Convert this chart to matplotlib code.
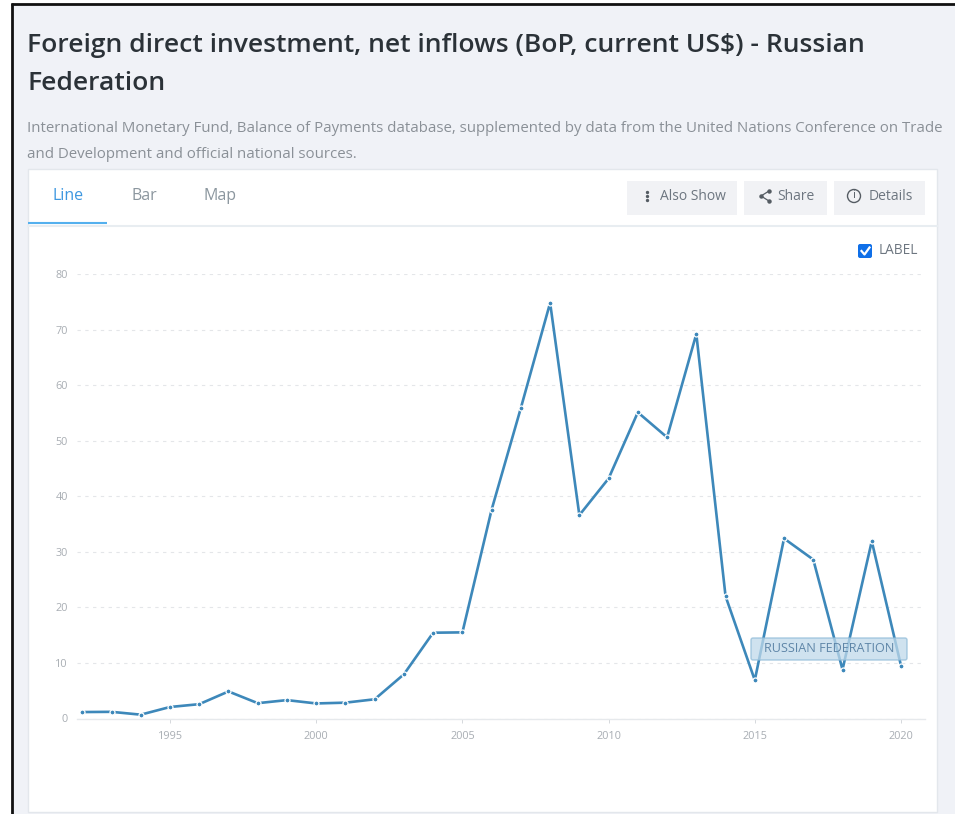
import matplotlib
matplotlib.use("Agg")
import matplotlib.pyplot as plt
from matplotlib.patches import Circle, FancyBboxPatch, Rectangle

plt.rcParams['font.family'] = ['Open Sans', 'DejaVu Sans']

# FDI net inflows, billions of current US$
years = [1992, 1993, 1994, 1995, 1996, 1997, 1998, 1999, 2000, 2001,
         2002, 2003, 2004, 2005, 2006, 2007, 2008, 2009, 2010, 2011,
         2012, 2013, 2014, 2015, 2016, 2017, 2018, 2019, 2020]
inflows = [1.16, 1.2, 0.69, 2.07, 2.58, 4.87, 2.76, 3.31, 2.71, 2.85,
           3.46, 7.96, 15.44, 15.5, 37.6, 55.9, 74.8, 36.6, 43.2, 55.1,
           50.6, 69.2, 22.0, 6.9, 32.4, 28.6, 8.8, 31.9, 9.5]
x_ticks = [1995, 2000, 2005, 2010, 2015, 2020]
y_ticks = [0, 10, 20, 30, 40, 50, 60, 70, 80]

title_lines = ["Foreign direct investment, net inflows (BoP, current US$) - Russian",
               "Federation"]
source_lines = ["International Monetary Fund, Balance of Payments database, supplemented by data from the United Nations Conference on Trade",
                "and Development and official national sources."]
series_name = "RUSSIAN FEDERATION"
tabs = ["Line", "Bar", "Map"]

W, H = 955, 814
LINE_BLUE = '#3d88ba'
GREY_TXT = '#6d7680'

fig = plt.figure(figsize=(W / 100, H / 100), dpi=100, facecolor='white')

# page layer, works in pixels from the top left
page = fig.add_axes([0, 0, 1, 1], zorder=0)
page.set_xlim(0, W)
page.set_ylim(H, 0)
page.axis('off')

page.add_patch(Rectangle((12, 4), W - 12, H - 4, fc='#f0f2f7', ec='none'))
page.plot([12, 12], [3, H], color='#111111', lw=2, solid_capstyle='butt')
page.plot([11, W], [4, 4], color='#111111', lw=2, solid_capstyle='butt')

page.text(27, 46, title_lines[0], fontsize=19.05, color='#2b3238', weight=600, va='center')
page.text(27, 83, title_lines[1], fontsize=19.05, color='#2b3238', weight=600, va='center')
page.text(27, 128, source_lines[0], fontsize=10.8, color='#8a9097', va='center')
page.text(27, 154, source_lines[1], fontsize=10.8, color='#8a9097', va='center')

# white card with the tab strip
page.add_patch(Rectangle((28, 169), 909, 643, fc='white', ec='#e3e7ec', lw=1))
page.plot([28, 937], [226, 226], color='#e8edf1', lw=1.5)
page.plot([28, 107], [223, 223], color='#54b0ee', lw=1.5, solid_capstyle='butt')

for name, cx, col in zip(tabs, [68, 144, 220], ['#3d97e0', '#8b969e', '#8b969e']):
    page.text(cx, 196.5, name, fontsize=11.5, color=col, ha='center', va='center')

# buttons on the right of the tab strip
for x0, x1 in [(627, 737), (744, 827), (834, 925)]:
    page.add_patch(Rectangle((x0, 181), x1 - x0, 34, fc='#f1f2f5', ec='none'))
page.text(660, 196, "Also Show", fontsize=10, color=GREY_TXT, va='center')
page.text(777, 196, "Share", fontsize=10, color=GREY_TXT, va='center')
page.text(869, 196, "Details", fontsize=10, color=GREY_TXT, va='center')

# three-dot icon
page.plot([647, 647, 647], [192, 196, 200], ls='none', marker='o', ms=1.4, color='#555c63')
# share icon
page.plot([769, 761, 769], [191, 196, 201], color='#555c63', lw=0.9)
page.plot([769, 761, 769], [191, 196, 201], ls='none', marker='o', ms=2.2, color='#555c63')
# info icon
page.add_patch(Circle((854, 196), 6.5, fc='none', ec='#555c63', lw=1))
page.text(854, 196, "i", fontsize=8, color='#555c63', ha='center', va='center')

# label checkbox
page.add_patch(FancyBboxPatch((859, 245), 12, 12, boxstyle='round,pad=1,rounding_size=2',
                              fc='#0f6fe8', ec='none'))
page.plot([861.5, 864.5, 869.5], [251, 254.5, 247.5], color='white', lw=1.6)
page.text(879, 250, "LABEL", fontsize=9.8, color=GREY_TXT, va='center')

# chart layer, placed on the same pixel grid
ax_l, ax_r, ax_t, ax_b = 77, 925, 274, 718.5
ax = fig.add_axes([ax_l / W, 1 - ax_b / H, (ax_r - ax_l) / W, (ax_b - ax_t) / H], zorder=1)
ax.patch.set_visible(False)
px_per_year = (901 - 170) / 25
ax.set_xlim(1995 - (170 - ax_l) / px_per_year, 1995 + (ax_r - 170) / px_per_year)
ax.set_ylim(0, 80)

for side in ['top', 'right', 'left']:
    ax.spines[side].set_visible(False)
ax.spines['bottom'].set_color('#e6e9ec')
ax.spines['bottom'].set_linewidth(1)

ax.grid(axis='y', color='#e4e6e9', linestyle=(0, (3, 4)), linewidth=0.8)
ax.set_axisbelow(True)
ax.set_xticks(x_ticks)
ax.set_yticks(y_ticks)
ax.tick_params(axis='x', length=3, width=0.7, color='#d5d8dc', labelsize=7.8,
               labelcolor='#a8adb3', pad=6)
ax.tick_params(axis='y', length=0, labelsize=7.8, labelcolor='#a8adb3', pad=6.5)

ax.plot(years, inflows, color=LINE_BLUE, lw=1.9, marker='o', ms=3.6, mfc=LINE_BLUE,
        mec='white', mew=0.9, solid_joinstyle='miter', clip_on=False)

# series tag sits over the line, so it gets its own layer
tag = fig.add_axes([0, 0, 1, 1], zorder=2)
tag.set_xlim(0, W)
tag.set_ylim(H, 0)
tag.axis('off')
tag.add_patch(FancyBboxPatch((751, 638), 156, 22, boxstyle='round,pad=0,rounding_size=2',
                             fc='#c0d9ea', ec='#8fbbd8', lw=1, alpha=0.75))
tag.text(829, 649, series_name, fontsize=9.1, color='#5f86a8', ha='center', va='center')

fig.savefig("out.png", dpi=100)
